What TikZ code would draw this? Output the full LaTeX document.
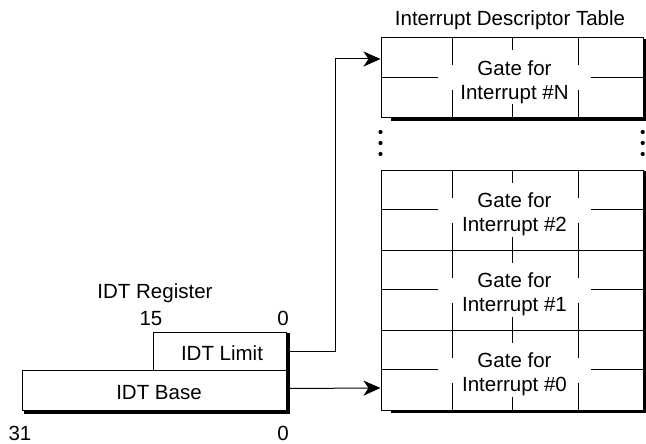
\documentclass[tikz,border=0pt]{standalone}
\usepackage{fontspec}
\setmainfont{Liberation Sans}
\usetikzlibrary{arrows.meta}
\newcommand{\gatelines}[1]{%
  \begin{scope}[shift={(0,#1)}]
    \draw[cellline] (380.5,40) -- (438,40);
    \draw[cellline] (591,40) -- (642.7,40);
    \draw[cellline] (452,0) -- (452,28);
    \draw[cellline] (452,53) -- (452,80);
    \draw[cellline] (512.5,0) -- (512.5,13);
    \draw[cellline] (512.5,67) -- (512.5,80);
    \draw[cellline] (578.5,0) -- (578.5,28);
    \draw[cellline] (578.5,53) -- (578.5,80);
  \end{scope}}
\begin{document}
\begin{tikzpicture}[x=1pt,y=-1pt,
  lbl/.style={font=\fontsize{20.5}{24}\selectfont, inner sep=0pt, anchor=base},
  box/.style={draw, line width=1pt, fill=white, inner sep=0pt, anchor=north west},
  cellbox/.style={box, minimum width=262.2pt, minimum height=80pt},
  cellline/.style={line width=0.9pt},
  conn/.style={line width=1pt, -{Stealth[length=17pt,width=15pt,inset=5pt]}},
  shadow/.style={fill=black}]
\useasboundingbox (0,0) rectangle (646,444);

% ---- title
\node[lbl] (title) at (510,26) {Interrupt Descriptor Table};

% ---- table shadows
\fill[shadow] (642.7,39) rectangle (646.5,121.5);
\fill[shadow] (390.7,117.5) rectangle (646.5,121.5);
\fill[shadow] (642.7,170.5) rectangle (646.5,413);
\fill[shadow] (390.7,409.5) rectangle (646.5,413);

% ---- table blocks
\node[cellbox] (gN) at (380.5,37.5) {};
\node[cellbox] (g2) at (380.5,169.5) {};
\node[cellbox] (g1) at (380.5,249.5) {};
\node[cellbox] (g0) at (380.5,329.5) {};
\gatelines{37.5}
\gatelines{169.5}
\gatelines{249.5}
\gatelines{329.5}

\node[lbl] (gNa) at (514.5,75.2) {Gate for};
\node[lbl] (gNb) at (514.5,99.2) {Interrupt \#N};
\node[lbl] (g2a) at (514.5,207.2) {Gate for};
\node[lbl] (g2b) at (514.5,231.2) {Interrupt \#2};
\node[lbl] (g1a) at (514.5,287.2) {Gate for};
\node[lbl] (g1b) at (514.5,311.2) {Interrupt \#1};
\node[lbl] (g0a) at (514.5,367.2) {Gate for};
\node[lbl] (g0b) at (514.5,391.2) {Interrupt \#0};

% ---- ellipsis dots
\foreach \yy in {132,143,154} {
  \fill (380.5,\yy) circle[radius=2.1pt];
  \fill (642.7,\yy) circle[radius=2.1pt];
}

% ---- register
\node[lbl] (regtitle) at (155,298.3) {IDT Register};
\node[lbl] (b15) at (151,325) {15};
\node[lbl] (b0a) at (283,325) {0};
\node[lbl] (b31) at (20,440.5) {31};
\node[lbl] (b0b) at (283,440.5) {0};

\fill[shadow] (286,333) rectangle (289.5,413.5);
\fill[shadow] (23.5,410) rectangle (289.5,413.5);
\node[box, minimum width=133pt, minimum height=38pt] (limit) at (153,332) {};
\node[box, minimum width=264.5pt, minimum height=40pt] (base) at (21.5,370) {};
\node[lbl] (limtxt) at (222,360) {IDT Limit};
\node[lbl] (bastxt) at (159,399.3) {IDT Base};

% ---- connectors
\coordinate (bend) at (335,59);
\coordinate (tN) at (380.5,59);
\coordinate (t0) at (380.5,388);
\draw[conn] (limit.east) -| (bend) -- (tN);
\draw[conn] ([yshift=2pt]base.east) -- (t0);
\end{tikzpicture}
\end{document}
